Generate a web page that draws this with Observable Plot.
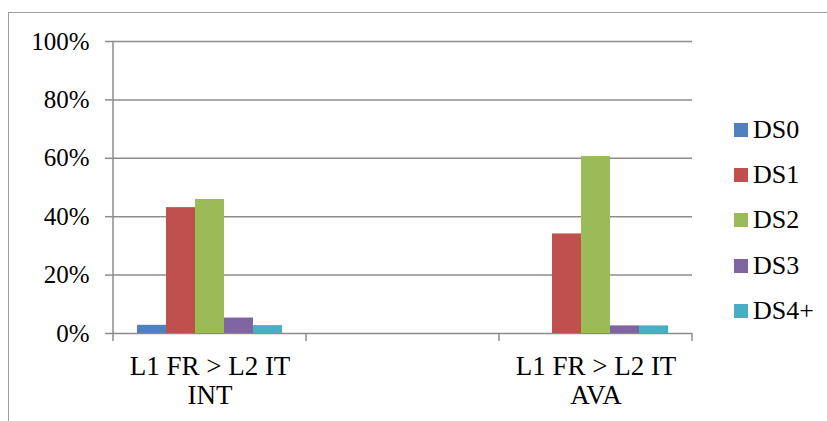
<!DOCTYPE html>
<html><head><meta charset="utf-8">
<script src="https://cdn.jsdelivr.net/npm/d3@7"></script>
<script src="https://cdn.jsdelivr.net/npm/@observablehq/plot@0.6"></script>
<style>
body{margin:0;background:#fff;}
#wrap{position:relative;width:827px;height:421px;overflow:hidden;font-family:"Liberation Serif",serif;background:#fff;}
#border{position:absolute;left:8px;top:12px;width:900px;height:500px;border-left:1px solid #9e9e9e;border-top:1px solid #9e9e9e;box-sizing:border-box;}
#chart{position:absolute;left:0;top:0;}
#legend{position:absolute;left:734px;top:107px;font-family:"Liberation Serif",serif;}
.item{display:flex;align-items:center;height:45.3px;font-size:26px;color:#000;}
.sw{width:14px;height:14px;margin-right:5px;flex:none;}
</style></head>
<body>
<div id="wrap"><div id="border"></div><div id="chart"></div><div id="legend"></div></div>
<script>
const categories = ["L1 FR > L2 IT\nINT", " ", "L1 FR > L2 IT\nAVA"];
const series = ["DS0", "DS1", "DS2", "DS3", "DS4+"];
const colors = ["#4F81BD", "#C0504D", "#9BBB59", "#8064A2", "#4BACC6"];
const intValues = [0.028, 0.431, 0.459, 0.053, 0.027];
const avaValues = [0.0, 0.341, 0.606, 0.026, 0.026];
const yTicks = [0, 0.2, 0.4, 0.6, 0.8, 1.0];
const yTickLabels = ["0%", "20%", "40%", "60%", "80%", "100%"];

const table = [];
series.forEach((s, i) => {
  table.push({cat: categories[0], series: s, value: intValues[i]});
  table.push({cat: categories[2], series: s, value: avaValues[i]});
});
const grid = [];
categories.forEach(c => yTicks.forEach(t => grid.push({cat: c, t})));

const font = '"Liberation Serif",serif';
const gridColor = "#8c8c8c";
const plot = Plot.plot({
  width: 827, height: 421,
  marginLeft: 112, marginRight: 135, marginTop: 41, marginBottom: 88,
  style: {fontFamily: font, fontSize: "25px", color: "#000", background: "transparent"},
  fx: {domain: categories, padding: 0, label: null},
  x: {domain: series, paddingInner: 0, paddingOuter: 0.75, axis: null},
  y: {domain: [0, 1], label: null},
  color: {domain: series, range: colors},
  marks: [
    Plot.ruleY(grid, {fx: "cat", y: "t", stroke: gridColor, strokeWidth: 1.5}),
    Plot.barY(table, {fx: "cat", x: "series", y: "value", fill: "series"}),
    Plot.axisY({ticks: yTicks, tickFormat: d => yTickLabels[yTicks.indexOf(d)], tickSize: 8, tickPadding: 16, stroke: gridColor, strokeWidth: 1.5, label: null}),
    Plot.axisFx({anchor: "bottom", tickSize: 0, tickPadding: 20, fontSize: 27, lineHeight: 1.1, label: null})
  ]
});
document.getElementById("chart").appendChild(plot);

// axis line and category boundary ticks, placed with the plot's own scales
const fx = plot.scale("fx"), y = plot.scale("y");
const bounds = [fx.apply(categories[0])].concat(categories.map(c => fx.apply(c) + fx.bandwidth));
const y0 = y.apply(0), y1 = y.apply(1);
const g = d3.select(plot).append("g").attr("stroke", gridColor).attr("stroke-width", 1.5);
g.append("line").attr("x1", bounds[0]).attr("x2", bounds[0]).attr("y1", y1).attr("y2", y0 + 8);
bounds.slice(1).forEach(b => g.append("line").attr("x1", b).attr("x2", b).attr("y1", y0).attr("y2", y0 + 8));

const legend = d3.select("#legend");
series.forEach((s, i) => {
  const it = legend.append("div").attr("class", "item");
  it.append("div").attr("class", "sw").style("background", colors[i]);
  it.append("span").text(s);
});
</script>
</body></html>
